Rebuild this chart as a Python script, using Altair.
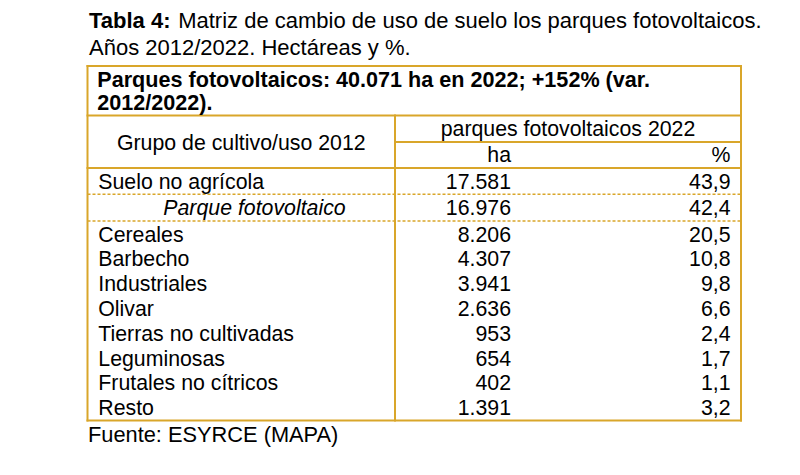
import altair as alt
import pandas as pd

# ---------------- data ----------------
titulo_bold = "Tabla 4:"
titulo_resto = "Matriz de cambio de uso de suelo los parques fotovoltaicos."
titulo_linea2 = "Años 2012/2022. Hectáreas y %."
cabecera_1 = "Parques fotovoltaicos: 40.071 ha en 2022; +152% (var."
cabecera_2 = "2012/2022)."
col_grupo = "Grupo de cultivo/uso 2012"
col_parques = "parques fotovoltaicos 2022"
col_ha = "ha"
col_pct = "%"
fuente = "Fuente: ESYRCE (MAPA)"

categorias = ["Suelo no agrícola", "Parque fotovoltaico", "Cereales", "Barbecho",
              "Industriales", "Olivar", "Tierras no cultivadas", "Leguminosas",
              "Frutales no cítricos", "Resto"]
hectareas = [17581, 16976, 8206, 4307, 3941, 2636, 953, 654, 402, 1391]
porcentaje = [43.9, 42.4, 20.5, 10.8, 9.8, 6.6, 2.4, 1.7, 1.1, 3.2]
italica = "Parque fotovoltaico"

# ---------------- layout (page pixels) ----------------
GOLD = "#D9A62A"
FONT = "Liberation Sans"
BODY = 21.3
TITLE = 22
L, R, DIV = 87.5, 741, 395
TOP, BOT = 66, 420.5


def fmt_ha(v):
    return f"{v:,}".replace(",", ".")


def fmt_pct(v):
    return f"{v:.1f}".replace(".", ",")


def row_y(i):
    if i == 0:
        return 189
    if i == 1:
        return 215
    return 241.5 + (i - 2) * 24.8


xs = alt.Scale(domain=[8, 792], nice=False, zero=False)
ys = alt.Scale(domain=[8, 467], nice=False, zero=False, reverse=True)


def text_layer(df, align="left", weight="normal", style="normal", size=BODY):
    return alt.Chart(df).mark_text(
        align=align, baseline="alphabetic", font=FONT, fontSize=size,
        fontWeight=weight, fontStyle=style, color="#000000"
    ).encode(
        x=alt.X("x:Q", scale=xs, axis=None),
        y=alt.Y("y:Q", scale=ys, axis=None),
        text="t:N",
    )


# title
t_bold = pd.DataFrame({"x": [89], "y": [28], "t": [titulo_bold]})
t_reg = pd.DataFrame({"x": [178.2, 89], "y": [28, 55], "t": [titulo_resto, titulo_linea2]})
h_bold = pd.DataFrame({"x": [97.3, 97.3], "y": [86.7, 109.5], "t": [cabecera_1, cabecera_2]})
centers = pd.DataFrame({"x": [(L + DIV) / 2, (DIV + R) / 2], "y": [150, 136],
                        "t": [col_grupo, col_parques]})
fuente_df = pd.DataFrame({"x": [88], "y": [441.7], "t": [fuente]})

rights_x, rights_y, rights_t = [511, 730.5], [161.7, 161.7], [col_ha, col_pct]
lefts_x, lefts_y, lefts_t = [], [], []
ital_x, ital_y, ital_t = [], [], []
for i, (c, h, p) in enumerate(zip(categorias, hectareas, porcentaje)):
    y = row_y(i)
    rights_x += [511, 730.5]
    rights_y += [y, y]
    rights_t += [fmt_ha(h), fmt_pct(p)]
    if c == italica:
        ital_x.append(163.3)
        ital_y.append(y)
        ital_t.append(c)
    else:
        lefts_x.append(98.3)
        lefts_y.append(y)
        lefts_t.append(c)

rights = pd.DataFrame({"x": rights_x, "y": rights_y, "t": rights_t})
lefts = pd.DataFrame({"x": lefts_x, "y": lefts_y, "t": lefts_t})
itals = pd.DataFrame({"x": ital_x, "y": ital_y, "t": ital_t})

# table lines
solid = pd.DataFrame([
    {"x": L, "x2": R, "y": TOP, "y2": TOP},
    {"x": L, "x2": R, "y": 115.5, "y2": 115.5},
    {"x": DIV, "x2": R, "y": 142, "y2": 142},
    {"x": L, "x2": R, "y": 168, "y2": 168},
    {"x": L, "x2": R, "y": BOT, "y2": BOT},
    {"x": L, "x2": L, "y": TOP, "y2": BOT},
    {"x": R, "x2": R, "y": TOP, "y2": BOT},
    {"x": DIV, "x2": DIV, "y": 115.5, "y2": BOT},
])
dotted = pd.DataFrame([
    {"x": L, "x2": R, "y": 194.3, "y2": 194.3},
    {"x": L, "x2": R, "y": 221, "y2": 221},
])

enc_rule = dict(
    x=alt.X("x:Q", scale=xs, axis=None), x2="x2:Q",
    y=alt.Y("y:Q", scale=ys, axis=None), y2="y2:Q",
)
solid_layer = alt.Chart(solid).mark_rule(color=GOLD, strokeWidth=2, strokeCap="square").encode(**enc_rule)
dotted_layer = alt.Chart(dotted).mark_rule(color=GOLD, strokeWidth=1.6, strokeDash=[3, 2]).encode(**enc_rule)

chart = alt.layer(
    dotted_layer,
    solid_layer,
    text_layer(t_bold, weight="bold", size=TITLE),
    text_layer(t_reg, size=TITLE),
    text_layer(h_bold, weight="bold", size=21.6),
    text_layer(centers, align="center"),
    text_layer(rights, align="right"),
    text_layer(lefts),
    text_layer(fuente_df, size=21.8),
    text_layer(itals, style="italic"),
).properties(
    width=784, height=459, padding=0, autosize="none", background="white"
).configure_view(stroke=None)

chart.save("out.html", embed_options={"renderer": "svg", "actions": False})
